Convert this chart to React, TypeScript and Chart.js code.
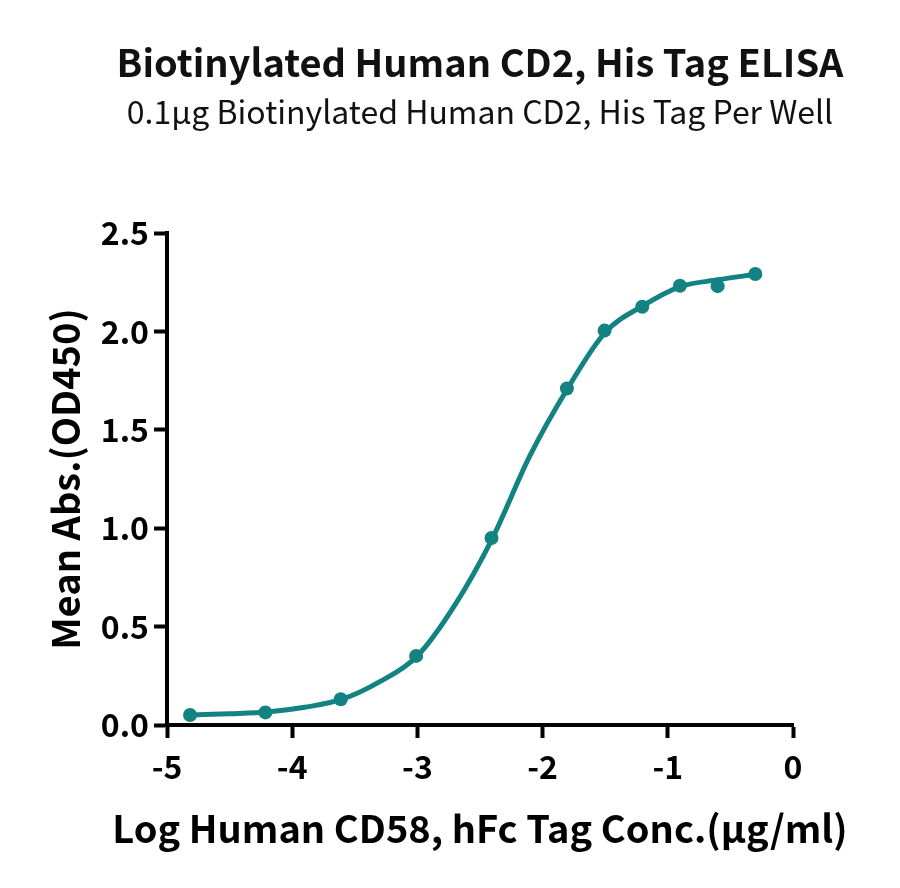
import React, { useEffect, useRef } from 'react';
import { Chart, registerables } from 'chart.js';

Chart.register(...registerables);

// log10 of CD58 concentration (ug/ml)
const logConc = [-4.816, -4.214, -3.612, -3.01, -2.408, -1.806, -1.505, -1.204, -0.903, -0.602, -0.301];
// mean absorbance at 450 nm
const meanAbs = [0.051, 0.064, 0.131, 0.351, 0.95, 1.71, 2.004, 2.125, 2.232, 2.23, 2.292];

// fitted curve
const fitX = [-4.8, -4.5, -4.2, -3.9, -3.6, -3.3, -3.0, -2.7, -2.4, -2.1, -1.8, -1.5, -1.2, -0.9, -0.6, -0.3];
const fitY = [0.051, 0.057, 0.066, 0.09, 0.131, 0.22, 0.351, 0.61, 0.95, 1.37, 1.71, 1.995, 2.13, 2.228, 2.262, 2.29];

const xTicks = [-5, -4, -3, -2, -1, 0];
const yTicks = [0, 0.5, 1.0, 1.5, 2.0, 2.5];

const TITLE = 'Biotinylated Human CD2, His Tag ELISA';
const SUBTITLE = '0.1μg Biotinylated Human CD2, His Tag Per Well';
const X_TITLE = 'Log Human CD58, hFc Tag Conc.(μg/ml)';
const Y_TITLE = 'Mean Abs.(OD450)';

const TEAL = '#138282';
const FONT = "'Noto Sans CJK SC', 'Noto Sans', sans-serif";

// chart.js squeezes titles to the chart area width, so draw these ourselves
const textPlugin = {
  id: 'centeredTexts',
  afterDraw(chart: any) {
    const { ctx, chartArea } = chart;
    const cx = (chartArea.left + chartArea.right) / 2;
    ctx.save();
    ctx.textAlign = 'center';
    ctx.textBaseline = 'middle';
    ctx.fillStyle = '#111';
    ctx.font = `bold 38px ${FONT}`;
    ctx.fillText(TITLE, cx, 63);
    ctx.font = `normal 32px ${FONT}`;
    ctx.fillText(SUBTITLE, cx, 112);
    ctx.fillStyle = '#000';
    ctx.font = `bold 38px ${FONT}`;
    ctx.fillText(X_TITLE, cx, 829);
    ctx.restore();
  },
};

const App: React.FC = () => {
  const canvasRef = useRef<HTMLCanvasElement | null>(null);

  useEffect(() => {
    if (!canvasRef.current) return;
    const points = logConc.map((x, i) => ({ x, y: meanAbs[i] }));
    const curve = fitX.map((x, i) => ({ x, y: fitY[i] }));

    const chart = new Chart(canvasRef.current, {
      type: 'scatter',
      data: {
        datasets: [
          {
            data: curve,
            showLine: true,
            cubicInterpolationMode: 'monotone',
            borderColor: TEAL,
            borderWidth: 5,
            pointRadius: 0,
            pointHoverRadius: 0,
          },
          {
            data: points,
            showLine: false,
            backgroundColor: TEAL,
            borderColor: TEAL,
            pointRadius: 7,
            pointHoverRadius: 7,
            pointBorderWidth: 0,
          },
        ],
      },
      options: {
        animation: false,
        responsive: false,
        devicePixelRatio: 1,
        layout: { padding: { top: 233, right: 107, bottom: 0, left: 0 } },
        plugins: {
          legend: { display: false },
          tooltip: { enabled: false },
          title: { display: false },
        },
        scales: {
          x: {
            type: 'linear',
            min: -5,
            max: 0,
            afterBuildTicks: (scale: any) => {
              scale.ticks = xTicks.map((v) => ({ value: v }));
            },
            afterFit: (scale: any) => {
              scale.height = 888 - 725;
            },
            ticks: {
              color: '#000',
              padding: 10,
              font: { family: FONT, size: 32, weight: 'bold' },
              callback: (v: any) => String(v),
            },
            grid: {
              drawOnChartArea: false,
              drawTicks: true,
              tickLength: 13,
              tickWidth: 4,
              tickColor: '#000',
            },
            border: { color: '#000', width: 4 },
          },
          y: {
            type: 'linear',
            min: 0,
            max: 2.5,
            afterBuildTicks: (scale: any) => {
              scale.ticks = yTicks.map((v) => ({ value: v }));
            },
            afterFit: (scale: any) => {
              scale.width = 167;
            },
            ticks: {
              color: '#000',
              padding: 5,
              font: { family: FONT, size: 32, weight: 'bold' },
              callback: (v: any) => Number(v).toFixed(1),
            },
            grid: {
              drawOnChartArea: false,
              drawTicks: true,
              tickLength: 13,
              tickWidth: 4,
              tickColor: '#000',
            },
            border: { color: '#000', width: 4 },
            title: {
              display: true,
              text: Y_TITLE,
              color: '#000',
              font: { family: FONT, size: 38, weight: 'bold' },
              padding: { top: 43, bottom: 0 },
            },
          },
        },
      },
      plugins: [textPlugin],
    });

    return () => {
      chart.destroy();
    };
  }, []);

  return (
    <div style={{ position: 'absolute', left: 0, top: 0, width: 900, height: 888, background: '#fff' }}>
      <canvas ref={canvasRef} width={900} height={888}></canvas>
    </div>
  );
};

export default App;
